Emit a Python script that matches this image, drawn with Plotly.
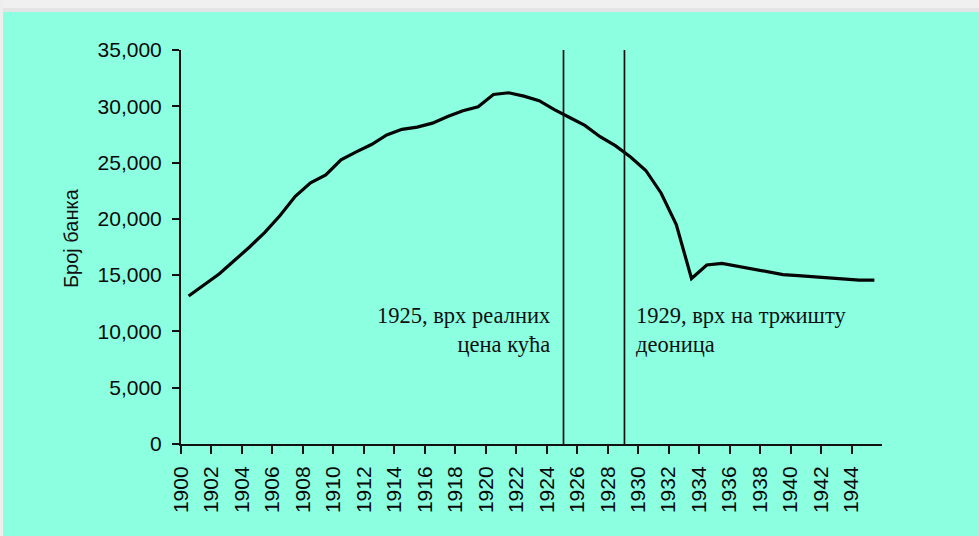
import plotly.graph_objects as go

# Data (annual values, plotted at mid-year)
years = list(range(1900, 1946))
banks = [13150, 14100, 15100, 16300, 17500, 18800, 20300, 22000, 23200, 23900,
         25250, 25950, 26600, 27450, 27950, 28150, 28500, 29100, 29600, 29950,
         31050, 31200, 30900, 30500, 29700, 29000, 28300, 27300, 26500, 25500,
         24300, 22300, 19500, 14700, 15900, 16050, 15800, 15500, 15250, 15050,
         14950, 14850, 14750, 14600, 14550, 14550]
tick_years = list(range(1900, 1946, 2))
y_ticks = [0, 5000, 10000, 15000, 20000, 25000, 30000, 35000]
event_years = [1925, 1929]
event_labels = ["1925, врх реалних<br>цена кућа", "1929, врх на тржишту<br>деоница"]
y_title = "Број банка"

TEAL = "rgb(139,255,224)"
mid = [y + 0.5 for y in years]

fig = go.Figure()
fig.add_trace(go.Scatter(x=mid, y=banks, mode="lines",
                         line=dict(color="#050505", width=3.2),
                         hoverinfo="skip", showlegend=False))

W, H = 979, 536
ml, mr, mt, mb = 181, 97, 50, 92
pw, ph = W - ml - mr, H - mt - mb

def px_x(p):
    return (p - ml) / pw

def px_y(p):
    return (H - mb - p) / ph

shapes = []
for ey in event_years:
    shapes.append(dict(type="line", xref="x", yref="y", x0=ey + 0.1, x1=ey + 0.1, y0=0, y1=35200,
                       line=dict(color="#111111", width=1.7)))
# grey strip at top and left edge of the screenshot
shapes.append(dict(type="rect", xref="paper", yref="paper", x0=px_x(-5), x1=px_x(W + 5),
                   y0=px_y(12), y1=px_y(-5), fillcolor="#f0f0f0", line=dict(width=0), layer="above"))
shapes.append(dict(type="rect", xref="paper", yref="paper", x0=px_x(-5), x1=px_x(W + 5),
                   y0=px_y(12), y1=px_y(8), fillcolor="#e4e4e4", line=dict(width=0), layer="above"))
shapes.append(dict(type="rect", xref="paper", yref="paper", x0=px_x(-5), x1=px_x(3),
                   y0=px_y(H + 5), y1=px_y(-5), fillcolor="#eeeeee", line=dict(width=0), layer="above"))

serif = dict(family="Liberation Serif, Times New Roman, serif", size=22.5, color="#111111")
annotations = [
    dict(text=event_labels[0], xref="paper", yref="paper", x=px_x(552), y=px_y(330),
         xanchor="right", yanchor="middle", align="right", showarrow=False, font=serif),
    dict(text=event_labels[1], xref="paper", yref="paper", x=px_x(634), y=px_y(330),
         xanchor="left", yanchor="middle", align="left", showarrow=False, font=serif),
    dict(text=y_title, xref="paper", yref="paper", x=px_x(71), y=px_y(238),
         xanchor="center", yanchor="middle", textangle=-90, showarrow=False,
         font=dict(family="Liberation Sans, Arial, sans-serif", size=20, color="#111111")),
]

tickfont = dict(family="Liberation Sans, Arial, sans-serif", size=21, color="#0a0a0a")
fig.update_layout(
    width=W, height=H,
    margin=dict(l=ml, r=mr, t=mt, b=mb, pad=0),
    paper_bgcolor=TEAL, plot_bgcolor=TEAL,
    shapes=shapes, annotations=annotations,
    showlegend=False,
    xaxis=dict(range=[1900, 1946], tickvals=tick_years, ticktext=[str(t) for t in tick_years],
               tickangle=-90, showgrid=False, zeroline=False,
               showline=True, linecolor="#111111", linewidth=2,
               ticks="outside", ticklen=8, tickwidth=2, tickcolor="#111111",
               tickfont=tickfont, ticklabelstandoff=4),
    yaxis=dict(range=[0, 35000], tickvals=y_ticks, tickformat=",d",
               showgrid=False, zeroline=False,
               showline=True, linecolor="#111111", linewidth=2,
               ticks="outside", ticklen=7, tickwidth=2, tickcolor="#111111",
               tickfont=tickfont, ticklabelstandoff=6),
)

fig.write_html("out.html", config={"displayModeBar": False},
               post_script="document.body.style.margin='0';document.body.style.overflow='hidden';")
